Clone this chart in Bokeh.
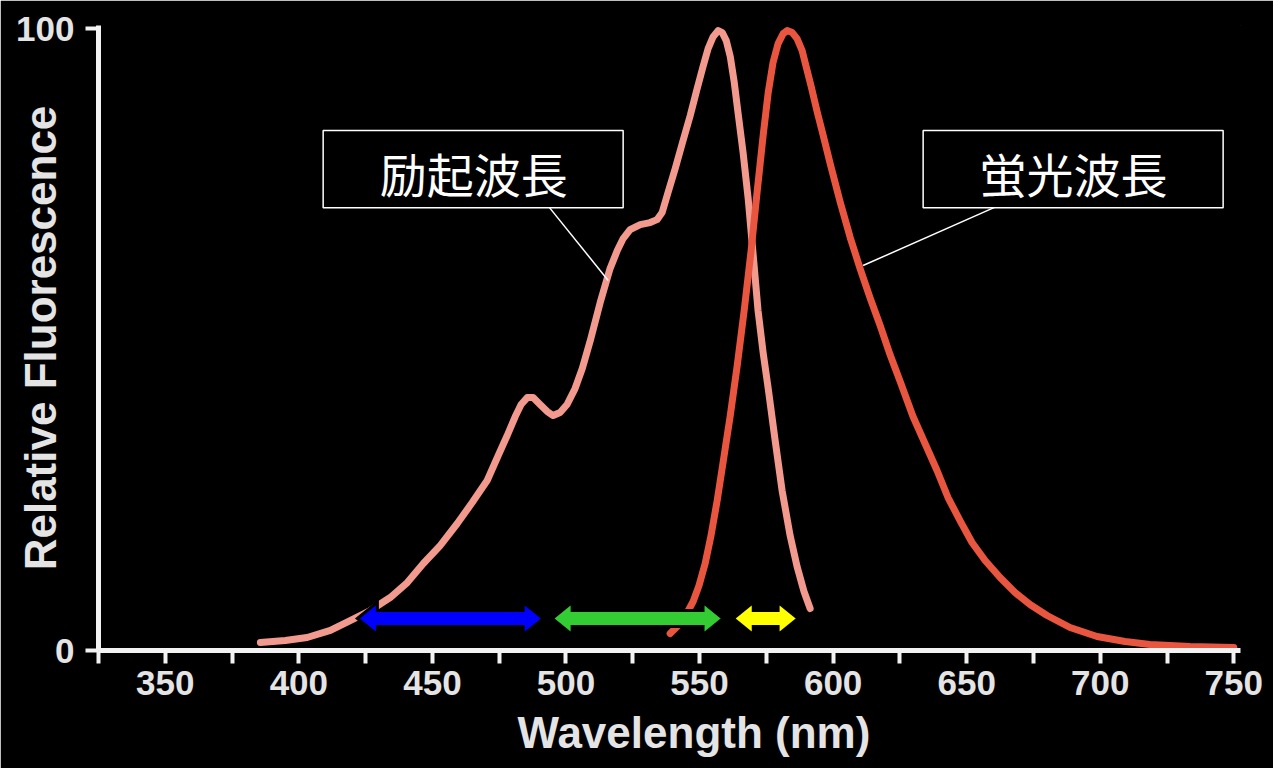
from bokeh.plotting import figure
from bokeh.models import (Range1d, FixedTicker, Label, BoxAnnotation, Title)
from bokeh.embed import file_html
from bokeh.resources import INLINE

# ---------------- data ----------------
ex_nm = [385.6, 394.9, 403.1, 411.8, 419.2, 426.7, 434.2, 440.6, 446.6, 452.9,
         459.3, 464.9, 470.5, 474.3, 478.0, 481.0, 483.2, 485.5, 487.7, 490.3,
         493.0, 495.2, 497.8, 500.4, 503.4, 506.1, 509.1, 512.8, 516.5, 519.2,
         521.4, 524.0, 527.8, 531.5, 534.1, 536.0, 538.2, 540.9, 543.5, 546.5,
         549.1, 551.3, 553.2, 555.1, 557.0, 558.5, 560.0, 561.5, 563.0, 564.4,
         566.3, 568.2, 570.1, 571.9, 573.8, 575.7, 578.3, 580.9, 583.9, 586.5,
         589.1, 591.4]
ex_val = [1.29, 1.61, 2.09, 3.22, 4.82, 6.43, 8.52, 10.93, 13.99, 16.88,
          20.42, 23.79, 27.33, 31.03, 34.57, 37.62, 39.55, 40.67, 40.67, 39.55,
          38.42, 37.78, 38.26, 39.55, 42.12, 45.34, 49.84, 55.95, 61.41, 64.31,
          66.24, 67.68, 68.49, 68.81, 69.29, 70.42, 73.63, 77.49, 81.51, 86.01,
          90.35, 93.89, 96.78, 98.71, 99.68, 99.36, 98.07, 95.50, 91.32, 86.49,
          80.06, 72.67, 63.50, 54.66, 47.91, 42.12, 33.76, 25.72, 18.49, 13.50,
          9.49, 6.75]

em_nm = [539.0, 542.0, 545.0, 547.6, 549.8, 552.1, 554.3, 556.6, 558.8, 561.5,
         564.1, 566.7, 569.3, 571.6, 573.8, 575.7, 577.5, 579.4, 581.3, 582.8,
         584.7, 586.5, 588.4, 589.9, 591.8, 594.0, 596.3, 598.9, 602.6, 606.4,
         610.1, 613.8, 617.6, 621.3, 625.1, 629.9, 634.4, 638.9, 643.0, 647.5,
         652.0, 656.9, 662.5, 668.1, 673.7, 680.1, 688.7, 698.8, 709.3, 718.6,
         733.6, 750.0]
em_val = [2.73, 4.02, 5.79, 7.88, 10.45, 13.99, 18.49, 24.12, 30.22, 37.78,
          45.82, 54.66, 64.31, 73.95, 82.80, 89.71, 94.53, 97.59, 99.20, 99.68,
          99.36, 98.39, 96.46, 93.89, 90.67, 86.66, 82.80, 78.29, 72.19, 66.40,
          61.41, 56.75, 52.25, 47.59, 43.25, 37.62, 33.28, 28.94, 24.60, 20.90,
          17.36, 14.47, 11.74, 9.32, 7.40, 5.63, 3.70, 2.25, 1.45, 0.96,
          0.64, 0.48]

x_major_ticks = [350, 400, 450, 500, 550, 600, 650, 700, 750]
x_minor_ticks = [325, 375, 425, 475, 525, 575, 625, 675, 725]
y_ticks = [0, 100]

band_start = [421.9, 494.8, 562.6]
band_end = [491.5, 558.8, 586.9]
band_level = 5.14
band_colors = ["#0000FF", "#33CC33", "#FFFF00"]

label_texts = ["励起波長", "蛍光波長"]
label_box_left = [409.1, 633.7]
label_box_right = [521.4, 746.0]
label_box_top = 83.6
label_box_bottom = 71.2
label_text_x = [465.5, 690.0]
label_text_y = 76.8
leader_x0 = [493.3, 661.7]
leader_y0 = [71.5, 71.5]
leader_x1 = [515.8, 611.2]
leader_y1 = [59.5, 61.9]

# ---------------- figure ----------------
p = figure(width=1273, height=768, output_backend="svg", toolbar_location=None,
           x_range=Range1d(325, 752.5), y_range=Range1d(0, 100.5),
           min_border_left=98, min_border_right=33, min_border_top=25,
           min_border_bottom=118, background_fill_color="black",
           border_fill_color="black", outline_line_color="black")
p.grid.visible = False

AX_COLOR = "#f2f2f2"
LBL_COLOR = "#e4e4e4"

xa = p.xaxis[0]
xa.ticker = FixedTicker(ticks=x_major_ticks, minor_ticks=x_minor_ticks)
xa.axis_line_color = AX_COLOR
xa.axis_line_width = 5
xa.major_tick_line_color = AX_COLOR
xa.major_tick_line_width = 4
xa.major_tick_in = 0
xa.major_tick_out = 13
xa.minor_tick_line_color = AX_COLOR
xa.minor_tick_line_width = 4
xa.minor_tick_in = 0
xa.minor_tick_out = 13
xa.major_label_text_font = "Liberation Sans"
xa.major_label_text_font_style = "bold"
xa.major_label_text_font_size = "35px"
xa.major_label_text_color = LBL_COLOR
xa.major_label_standoff = 7

ya = p.yaxis[0]
ya.ticker = FixedTicker(ticks=y_ticks, minor_ticks=[])
ya.axis_line_color = AX_COLOR
ya.axis_line_width = 5
ya.major_tick_line_color = AX_COLOR
ya.major_tick_line_width = 4
ya.major_tick_in = 0
ya.major_tick_out = 13
ya.minor_tick_line_color = None
ya.major_label_text_font = "Liberation Sans"
ya.major_label_text_font_style = "bold"
ya.major_label_text_font_size = "35px"
ya.major_label_text_color = LBL_COLOR
ya.major_label_standoff = 11
ya.axis_label = "Relative Fluorescence"
ya.axis_label_text_font = "Liberation Sans"
ya.axis_label_text_font_style = "bold"
ya.axis_label_text_font_size = "44px"
ya.axis_label_text_color = LBL_COLOR
ya.axis_label_standoff = -52

p.add_layout(Title(text="Wavelength (nm)", align="left", offset=419,
                   vertical_align="top", standoff=20,
                   text_color=LBL_COLOR, text_font="Liberation Sans",
                   text_font_style="bold", text_font_size="44px"), "below")

# curves
p.line(ex_nm, ex_val, line_color="#F29A8E", line_width=7,
       line_cap="round", line_join="round")
p.line(em_nm, em_val, line_color="#E8563F", line_width=7,
       line_cap="round", line_join="round")

# double-headed arrows (shape sizes in data units: head length / half widths)
HEAD_LEN = 7.5
HEAD_HALF = 2.6
BODY_HALF = 1.3
arrow_xs, arrow_ys = [], []
for s, e in zip(band_start, band_end):
    y = band_level
    arrow_xs.append([s, s + HEAD_LEN, s + HEAD_LEN, e - HEAD_LEN, e - HEAD_LEN,
                     e, e - HEAD_LEN, e - HEAD_LEN, s + HEAD_LEN, s + HEAD_LEN])
    arrow_ys.append([y, y + HEAD_HALF, y + BODY_HALF, y + BODY_HALF, y + HEAD_HALF,
                     y, y - HEAD_HALF, y - BODY_HALF, y - BODY_HALF, y - HEAD_HALF])
p.patches(arrow_xs, arrow_ys, fill_color=band_colors, line_color="black",
          line_width=3, line_join="miter")

# leader lines
p.segment(x0=leader_x0, y0=leader_y0, x1=leader_x1, y1=leader_y1,
          line_color="white", line_width=1.5)

# label boxes
for i, t in enumerate(label_texts):
    p.add_layout(BoxAnnotation(left=label_box_left[i], right=label_box_right[i],
                               top=label_box_top, bottom=label_box_bottom,
                               fill_color="black", fill_alpha=1.0,
                               line_color="white", line_width=1.5, line_alpha=1.0))
    p.add_layout(Label(x=label_text_x[i], y=label_text_y, text=t,
                       text_align="center", text_baseline="middle",
                       text_color="white", text_font="Noto Sans CJK JP",
                       text_font_size="47px"))

html = file_html(p, INLINE)
html = html.replace("<body>", '<body style="margin:0;background:#000000">', 1)
open("out.html", "w").write(html)
